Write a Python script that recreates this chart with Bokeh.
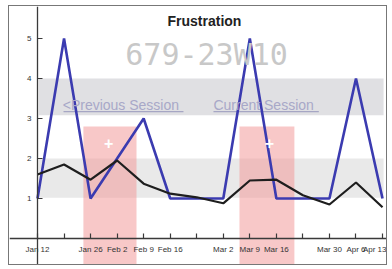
from bokeh.plotting import figure
from bokeh.models import Range1d, FixedTicker, BoxAnnotation, Label
from bokeh.embed import file_html
from bokeh.resources import INLINE

weeks = ["Jan 12", "Jan 19", "Jan 26", "Feb 2", "Feb 9", "Feb 16", "Feb 23",
         "Mar 2", "Mar 9", "Mar 16", "Mar 23", "Mar 30", "Apr 6", "Apr 13"]
shown_labels = ["Jan 12", "", "Jan 26", "Feb 2", "Feb 9", "Feb 16", "",
                "Mar 2", "Mar 9", "Mar 16", "", "Mar 30", "Apr 6", "Apr 13"]
blue_values = [1, 5, 1, 2, 3, 1, 1, 1, 5, 1, 1, 1, 4, 1]
black_values = [1.6, 1.85, 1.47, 1.95, 1.37, 1.12, 1.03, 0.88, 1.45, 1.47, 1.08, 0.85, 1.4, 0.78]
y_ticks = [1, 2, 3, 4, 5]

x = list(range(len(weeks)))

p = figure(width=379, height=260, output_backend="svg", toolbar_location=None,
           x_range=Range1d(-1.055, 13.225), y_range=Range1d(-0.70, 5.8),
           min_border_left=0, min_border_right=0, min_border_top=0, min_border_bottom=0)
p.styles = {"border": "1px solid #777777", "margin-left": "8px", "margin-top": "5px"}
p.background_fill_color = "white"
p.border_fill_color = "white"
p.outline_line_color = None
p.xgrid.visible = False
p.ygrid.visible = False

p.add_layout(BoxAnnotation(left=0.05, right=13.04, bottom=3.08, top=4.0,
                           fill_color="#d6d6da", fill_alpha=0.75, line_color=None, level="underlay"))
p.add_layout(BoxAnnotation(left=0.05, right=13.04, bottom=1.02, top=2.0,
                           fill_color="#e4e4e4", fill_alpha=0.8, line_color=None, level="underlay"))
p.add_layout(BoxAnnotation(left=1.73, right=3.73, bottom=-1, top=2.8,
                           fill_color="#f39a9a", fill_alpha=0.55, line_color=None, level="underlay"))
p.add_layout(BoxAnnotation(left=7.61, right=9.68, bottom=-1, top=2.8,
                           fill_color="#f39a9a", fill_alpha=0.55, line_color=None, level="underlay"))

p.add_layout(BoxAnnotation(left=0.98, right=5.5, bottom=3.155, top=3.185,
                           fill_color="#a0a0c0", fill_alpha=0.9, line_color=None, level="underlay"))
p.add_layout(BoxAnnotation(left=6.63, right=10.6, bottom=3.155, top=3.185,
                           fill_color="#a0a0c0", fill_alpha=0.9, line_color=None, level="underlay"))

p.line(x, blue_values, line_color="#3b3bb0", line_width=2.6)
p.line(x, black_values, line_color="#1e1e1e", line_width=2.2)

p.add_layout(Label(x=6.29, y=5.45, text="Frustration", text_align="center", text_baseline="alphabetic",
                   text_font="Liberation Sans", text_font_size="14px", text_font_style="bold",
                   text_color="#222222"))
p.add_layout(Label(x=6.37, y=4.6, text="679-23W10", text_align="center", text_baseline="middle",
                   text_font="DejaVu Sans Mono", text_font_size="30px", text_color="#c8c8c8"))
p.add_layout(Label(x=0.95, y=3.33, text="<Previous Session", text_align="left", text_baseline="middle",
                   text_font="Liberation Sans", text_font_size="14px", text_color="#a8a8c8"))
p.add_layout(Label(x=6.63, y=3.33, text="Current Session", text_align="left", text_baseline="middle",
                   text_font="Liberation Sans", text_font_size="14px", text_color="#a8a8c8"))
p.add_layout(Label(x=2.68, y=2.38, text="+", text_align="center", text_baseline="middle",
                   text_font="Liberation Sans", text_font_size="16px", text_font_style="bold",
                   text_color="white"))
p.add_layout(Label(x=8.74, y=2.38, text="+", text_align="center", text_baseline="middle",
                   text_font="Liberation Sans", text_font_size="16px", text_font_style="bold",
                   text_color="white"))

xax = p.xaxis[0]
yax = p.yaxis[0]
xax.fixed_location = 0
yax.fixed_location = 0
xax.ticker = FixedTicker(ticks=x)
xax.major_label_overrides = {i: lab for i, lab in enumerate(shown_labels)}
yax.ticker = FixedTicker(ticks=y_ticks)
for ax in (xax, yax):
    ax.axis_line_color = "#3a3a3a"
    ax.axis_line_width = 1.3
    ax.major_tick_line_color = "#3a3a3a"
    ax.major_tick_line_width = 1.2
    ax.major_tick_in = 5
    ax.major_tick_out = 0
    ax.minor_tick_line_color = None
    ax.major_label_text_font = "Liberation Sans"
    ax.major_label_text_font_size = "8px"
    ax.major_label_text_color = "#333333"
    ax.major_label_standoff = 6

open("out.html", "w").write(file_html(p, INLINE))
